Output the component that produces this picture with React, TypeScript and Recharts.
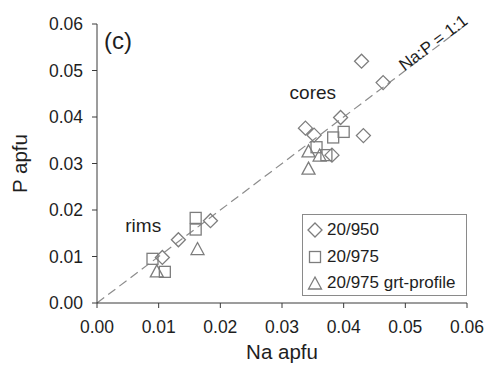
import {
  ScatterChart,
  Scatter,
  XAxis,
  YAxis,
  ReferenceLine,
  ReferenceDot,
} from 'recharts';

// Na apfu / P apfu
const na950 = [0.0429, 0.0464, 0.0395, 0.0432, 0.0338, 0.0352, 0.0381, 0.0184, 0.0132, 0.0106];
const p950 = [0.052, 0.0474, 0.0399, 0.036, 0.0376, 0.0361, 0.0318, 0.0177, 0.0136, 0.0098];

const na975 = [0.0383, 0.04, 0.0356, 0.0372, 0.0160, 0.0160, 0.0090, 0.0110];
const p975 = [0.0356, 0.0368, 0.0335, 0.0318, 0.0183, 0.0158, 0.0095, 0.0067];

const naGrt = [0.0343, 0.0361, 0.0343, 0.0163, 0.0097];
const pGrt = [0.0325, 0.0316, 0.0288, 0.0115, 0.0067];

const ticks = [0, 0.01, 0.02, 0.03, 0.04, 0.05, 0.06];
const seriesNames = ['20/950', '20/975', '20/975 grt-profile'];

const FONT = '"Liberation Sans", Arial, sans-serif';
const MARK = '#7d7d7d';
const AXIS = '#3a3a3a';
const TEXT = '#1e1e1e';

const toPoints = (xs: number[], ys: number[]) => xs.map((na, i) => ({ na, p: ys[i] }));

const Diamond = ({ cx, cy }: any) => (
  <path
    d={`M${cx},${cy - 7}L${cx + 7},${cy}L${cx},${cy + 7}L${cx - 7},${cy}Z`}
    fill="none"
    stroke={MARK}
    strokeWidth={1.3}
  />
);

const Square = ({ cx, cy }: any) => (
  <rect x={cx - 5.5} y={cy - 5.5} width={11} height={11} fill="none" stroke={MARK} strokeWidth={1.3} />
);

const Triangle = ({ cx, cy }: any) => (
  <path
    d={`M${cx},${cy - 7}L${cx + 6.5},${cy + 5}L${cx - 6.5},${cy + 5}Z`}
    fill="none"
    stroke={MARK}
    strokeWidth={1.3}
  />
);

const textLabel =
  (value: string, size: number, angle = 0) =>
  (props: any) => {
    const vb = props.viewBox || {};
    const x = vb.x + (vb.width || 0) / 2;
    const y = vb.y + (vb.height || 0) / 2;
    return (
      <text
        x={x}
        y={y}
        dy="0.35em"
        textAnchor="middle"
        fontFamily={FONT}
        fontSize={size}
        fill={TEXT}
        transform={angle ? `rotate(${angle}, ${x}, ${y})` : undefined}
      >
        {value}
      </text>
    );
  };

const LegendIcon = ({ kind }: { kind: number }) => (
  <svg width={16} height={16} style={{ position: 'absolute', left: 4, top: 5 }}>
    {kind === 0 && <Diamond cx={8} cy={8} />}
    {kind === 1 && <Square cx={8} cy={8} />}
    {kind === 2 && <Triangle cx={8} cy={9} />}
  </svg>
);

export default function App() {
  return (
    <div style={{ position: 'absolute', left: 0, top: 0, width: 494, height: 372, background: '#fff' }}>
      <ScatterChart width={494} height={372} margin={{ top: 24, right: 27, left: 0, bottom: 0 }}>
        <XAxis
          type="number"
          dataKey="na"
          domain={[0, 0.06]}
          ticks={ticks}
          allowDataOverflow
          tickFormatter={(v: number) => v.toFixed(2)}
          height={69}
          tickSize={5}
          tickMargin={13}
          axisLine={{ stroke: AXIS }}
          tickLine={{ stroke: AXIS }}
          tick={{ fill: TEXT, fontSize: 17.5, fontFamily: FONT }}
          label={{
            value: 'Na apfu',
            position: 'insideBottom',
            offset: 13,
            fill: TEXT,
            fontSize: 20.5,
            fontFamily: FONT,
          }}
        />
        <YAxis
          type="number"
          dataKey="p"
          domain={[0, 0.06]}
          ticks={ticks}
          allowDataOverflow
          tickFormatter={(v: number) => v.toFixed(2)}
          width={97}
          tickSize={5}
          tickMargin={9}
          axisLine={{ stroke: AXIS }}
          tickLine={{ stroke: AXIS }}
          tick={{ fill: TEXT, fontSize: 17.5, fontFamily: FONT }}
          label={{
            content: (props: any) => {
              const vb = props.viewBox;
              const y = vb.y + vb.height / 2;
              return (
                <text
                  x={20}
                  y={y}
                  dy="0.35em"
                  textAnchor="middle"
                  fontFamily={FONT}
                  fontSize={20.5}
                  fill={TEXT}
                  transform={`rotate(-90, 20, ${y})`}
                >
                  P apfu
                </text>
              );
            },
          }}
        />
        <ReferenceLine
          segment={[
            { x: 0, y: 0 },
            { x: 0.06, y: 0.06 },
          ]}
          stroke="#8c8c8c"
          strokeWidth={1.2}
          strokeDasharray="9 5"
        />
        <ReferenceDot x={0.0545} y={0.056} r={0} fill="none" stroke="none" label={textLabel('Na:P = 1:1', 17, -37)} />
        <ReferenceDot x={0.0350} y={0.0452} r={0} fill="none" stroke="none" label={textLabel('cores', 19)} />
        <ReferenceDot x={0.0075} y={0.0166} r={0} fill="none" stroke="none" label={textLabel('rims', 19)} />
        <ReferenceDot x={0.0034} y={0.0565} r={0} fill="none" stroke="none" label={textLabel('(c)', 24)} />
        <Scatter name={seriesNames[0]} data={toPoints(na950, p950)} shape={Diamond} isAnimationActive={false} />
        <Scatter name={seriesNames[1]} data={toPoints(na975, p975)} shape={Square} isAnimationActive={false} />
        <Scatter name={seriesNames[2]} data={toPoints(naGrt, pGrt)} shape={Triangle} isAnimationActive={false} />
      </ScatterChart>
      <div
        style={{
          position: 'absolute',
          left: 302,
          top: 214,
          width: 165,
          height: 82,
          border: '1px solid #8a8a8a',
          boxSizing: 'border-box',
          background: '#fff',
          fontFamily: FONT,
          fontSize: 17,
          color: TEXT,
        }}
      >
        {seriesNames.map((name, i) => (
          <div key={name} style={{ position: 'absolute', left: 0, top: 2 + i * 26.5, height: 26, width: '100%' }}>
            <LegendIcon kind={i} />
            <span style={{ position: 'absolute', left: 24, top: 3, lineHeight: '20px', whiteSpace: 'nowrap' }}>
              {name}
            </span>
          </div>
        ))}
      </div>
    </div>
  );
}
